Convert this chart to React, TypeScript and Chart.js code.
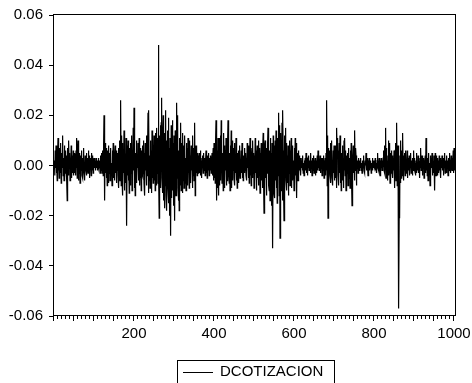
import React, { useEffect, useRef } from "react";
import Chart from "chart.js/auto";

const seriesName = "DCOTIZACION";
const xTickValues = [200, 400, 600, 800, 1000];
const yTickValues = [-0.06, -0.04, -0.02, 0, 0.02, 0.04, 0.06];

const obs0001to0100 = [
  .002,-.004,.006,-.001,.008,-.003,.001,-.006,.004,.011,
  -.002,.003,-.005,.007,0,-.003,.009,-.007,.002,.005,
  -.001,.012,-.004,.003,-.006,.008,.001,-.003,.006,-.002,
  .004,-.005,-.014,.007,.002,-.004,.010,-.001,.005,-.006,
  .003,-.002,.008,-.005,.001,.004,-.003,.006,-.004,.002,
  -.003,.005,.002,-.004,.006,-.001,.011,-.005,.003,.010,
  -.006,.002,-.003,.005,-.007,.004,.001,-.002,.006,-.004,
  .003,-.005,.002,.007,-.003,.001,-.006,.004,0,-.002,
  .005,-.004,.003,.001,-.003,.006,-.002,.004,-.005,.002,
  -.001,.003,-.004,.005,0,-.002,.004,-.003,.001,.003,
];
const obs0101to0200 = [
  -.001,.002,0,-.002,.003,.001,-.001,.002,-.002,.001,
  .003,-.001,0,.002,-.003,.001,.004,-.002,.005,-.003,
  .002,.006,-.004,.008,.020,-.006,-.014,.009,-.003,.007,
  -.005,.004,-.008,.006,.002,-.007,.008,-.003,.005,-.006,
  .003,.007,-.004,.001,-.008,.006,-.002,.009,-.005,.003,
  -.006,.004,.008,-.003,.002,-.007,.006,-.002,.005,-.004,
  .007,-.009,.003,.010,-.006,.004,.026,-.008,.012,-.005,
  .009,-.012,.006,-.003,.014,-.010,.005,.002,-.007,.011,
  -.009,-.024,.008,-.004,.010,-.006,.003,-.011,.007,.001,
  -.008,.009,-.003,.012,-.010,.006,-.005,.015,-.002,.023,
];
const obs0201to0300 = [
  -.009,.008,-.012,.005,-.003,.010,-.007,.004,-.001,.009,
  -.006,.003,.011,-.008,.002,-.005,.007,-.010,.006,-.003,
  .008,-.004,.001,.010,-.007,.005,-.012,.009,-.002,.006,
  -.008,.012,-.004,.007,.021,-.011,.022,-.006,.004,-.009,
  .010,-.003,.006,-.011,.014,-.005,.008,-.007,.003,.012,
  -.006,.009,-.010,.013,.004,-.008,.015,-.003,.011,-.007,
  .048,-.004,-.021,.012,.006,.016,-.009,.017,.027,-.005,
  -.011,.008,.020,-.014,.005,-.017,.013,-.008,.022,-.012,
  .010,-.018,.006,.014,-.009,.019,-.015,.007,-.020,.011,
  -.006,-.028,.016,-.013,.004,.018,-.010,.009,-.016,.012,
];
const obs0301to0400 = [
  -.007,-.022,.014,.008,-.012,.010,.025,-.005,.020,-.009,
  -.014,.006,-.018,.011,.007,-.008,.017,-.010,.004,.009,
  -.011,.013,-.006,.008,-.009,.005,.012,-.007,.003,-.010,
  .009,-.004,.007,-.008,.011,-.003,.006,-.009,.010,-.005,
  .004,-.007,.008,-.002,.005,-.009,.012,-.004,.007,-.006,
  .003,.017,-.012,-.005,.008,-.003,.006,-.004,.005,-.003,
  .004,-.002,.005,-.003,.001,.006,-.004,.002,-.005,.003,
  -.001,.004,-.003,.005,-.002,0,.003,-.004,.002,.006,
  -.003,.001,-.005,.004,.002,-.002,.005,-.004,.001,.003,
  -.002,.004,-.003,0,.005,-.004,.002,.007,-.006,.009,
];
const obs0401to0500 = [
  -.005,.008,-.007,.010,.018,-.004,-.014,.006,-.009,.011,
  .007,-.012,.011,-.008,.004,.012,-.006,.018,.009,-.007,
  -.007,.005,-.010,.013,-.004,.008,-.009,.006,-.002,.011,
  -.008,.004,-.006,.009,.018,.012,-.003,-.007,.005,-.010,
  .008,-.004,.014,-.009,.003,-.006,.010,-.002,.007,-.005,
  .009,-.008,.004,-.003,.011,-.006,.007,-.009,.005,-.002,
  .006,-.007,.003,.008,-.005,.002,-.004,.006,-.003,.009,
  -.005,.002,-.006,.004,.001,-.003,.007,-.002,.005,-.004,
  .003,-.006,.009,-.001,.004,-.005,.008,-.007,.002,.011,
  -.004,.006,-.008,.003,.007,-.005,.010,-.003,.005,-.009,
];
const obs0501to0600 = [
  .004,-.007,.011,-.003,.006,-.010,.002,.008,-.005,.003,
  -.008,.010,-.004,.007,-.011,.005,-.002,.009,-.006,.004,
  -.009,.006,.013,-.007,-.019,-.004,.008,.010,-.005,.003,
  -.012,.007,-.003,.009,.015,.004,-.008,-.010,.006,-.014,
  .011,-.007,.005,-.016,.009,-.004,-.033,.012,.006,-.011,
  .008,-.013,.010,-.006,.014,-.009,.005,-.015,.011,-.004,
  .009,.021,-.012,.016,-.029,-.007,.013,-.010,-.008,.017,
  -.014,.022,.006,-.011,-.022,.012,-.009,.007,.015,-.006,
  .009,-.010,.004,-.007,.008,-.012,.005,-.003,.010,-.008,
  .006,-.004,.011,-.009,.003,-.006,.008,-.005,.002,-.010,
];
const obs0601to0700 = [
  .007,-.008,.011,-.004,.009,-.006,-.013,.005,.003,-.006,
  .006,-.003,.004,-.002,.001,.003,-.004,.002,-.001,.003,
  -.002,.004,-.003,.001,-.004,.002,0,.003,-.002,.005,
  -.003,.001,.002,-.004,.003,-.001,.004,-.002,0,.002,
  -.003,.005,-.001,.002,-.004,.003,.001,-.002,.004,-.003,
  .002,-.001,.003,-.004,.001,.002,-.003,.004,-.002,.006,
  -.001,.003,-.002,0,.004,-.003,.002,-.001,.003,-.004,
  .001,.003,-.002,.004,-.005,.002,0,.003,-.004,.005,
  -.002,.026,-.008,.012,-.021,.007,-.006,.003,.006,-.004,
  .009,-.007,.003,.010,-.005,.002,-.008,.006,-.003,.008,
];
const obs0701to0800 = [
  -.006,.004,.008,-.005,.007,-.009,.015,.003,.011,-.004,
  .006,-.008,.009,-.003,.012,-.007,.002,-.010,.005,-.004,
  .008,-.006,.003,-.009,.010,-.002,.011,-.004,.006,-.010,
  -.007,.004,-.003,.005,-.008,.002,.007,-.005,.003,-.009,
  .006,-.004,.009,-.007,-.016,-.011,.002,.008,-.003,.005,
  -.006,.014,-.002,.007,.004,-.008,.003,-.001,.002,-.003,
  .001,.003,-.002,0,.002,-.001,.003,-.002,.001,-.003,
  .002,0,-.001,.004,-.002,.001,-.003,.002,0,.005,
  -.002,.001,.003,-.001,-.004,.002,0,.003,-.002,.001,
  -.001,.002,-.003,.001,0,.003,-.002,.002,-.001,0,
];
const obs0801to0900 = [
  .002,-.001,.003,-.002,.001,0,-.003,.002,.005,-.001,
  .001,-.002,.003,0,-.004,.002,-.001,.003,.001,-.002,
  .002,-.001,.003,.006,-.002,.008,-.003,.004,.015,-.005,
  .007,-.003,.002,-.006,.004,.010,-.004,.003,.009,-.007,
  .005,.001,-.003,.006,-.002,.004,-.005,.003,-.002,.006,
  -.004,-.009,.006,.009,-.006,.003,.017,-.008,.005,.008,
  -.003,-.057,-.020,-.021,.004,-.007,.010,-.005,.006,-.004,
  .008,.013,-.003,-.006,.004,-.002,.005,-.004,.006,-.003,
  .002,-.003,.006,-.005,.001,.003,-.002,.004,-.004,.002,
  -.001,.005,-.003,.002,0,-.004,.003,-.002,.006,-.001,
];
const obs0901to1005 = [
  .003,-.002,.001,-.004,.002,.005,-.003,.001,-.002,.004,
  -.003,.002,0,-.005,.003,-.001,.007,-.002,.001,.004,
  -.004,.002,-.001,.003,-.005,.002,0,.004,-.003,.011,
  -.002,.006,-.004,.003,-.006,.002,.005,-.003,.001,-.008,
  .004,-.002,.003,-.001,.005,-.004,.002,0,-.003,.004,
  -.002,-.010,.005,.002,-.004,.004,-.001,.003,-.004,.002,
  .001,-.003,.004,-.002,0,.003,-.005,.002,-.001,.004,
  -.002,.001,.003,-.004,.002,-.001,.005,-.003,0,.002,
  -.003,.004,-.001,.002,-.004,.001,.003,-.002,.005,-.001,
  .002,-.003,.004,0,-.002,.003,-.001,.006,-.003,.007,
  -.002,.004,-.001,.003,-.003,
];

const dcotizacion = [
  ...obs0001to0100, ...obs0101to0200, ...obs0201to0300, ...obs0301to0400,
  ...obs0401to0500, ...obs0501to0600, ...obs0601to0700, ...obs0701to0800,
  ...obs0801to0900, ...obs0901to1005,
];

const FONT = '"Liberation Sans", Arial, Helvetica, sans-serif';

export default function App() {
  const ref = useRef<HTMLCanvasElement>(null);

  useEffect(() => {
    if (!ref.current) return;
    const points = dcotizacion.map((v, i) => ({ x: i + 1, y: v }));

    const framePlugin = {
      id: "eviewsFrame",
      afterDraw(chart: any) {
        const ctx = chart.ctx;
        const a = chart.chartArea;
        ctx.save();
        ctx.strokeStyle = "#000";
        ctx.lineWidth = 1;
        ctx.strokeRect(a.left - 0.5, a.top - 0.5, a.right - a.left, a.bottom - a.top);
        // x-axis minor/major ticks
        const xs = chart.scales.x;
        ctx.beginPath();
        for (let v = 0; v <= 1000; v += 10) {
          const px = Math.round(xs.getPixelForValue(v)) - 0.5;
          if (px < a.left - 1 || px > a.right) continue;
          const len = v % 50 === 0 ? 5 : 3;
          ctx.moveTo(px, a.bottom);
          ctx.lineTo(px, a.bottom + len);
        }
        ctx.stroke();
        // legend
        ctx.strokeRect(177.5, 360.5, 157, 40);
        ctx.beginPath();
        ctx.moveTo(183, 372.5);
        ctx.lineTo(213, 372.5);
        ctx.stroke();
        ctx.fillStyle = "#000";
        ctx.font = `15px ${FONT}`;
        ctx.textBaseline = "middle";
        ctx.textAlign = "left";
        ctx.fillText(seriesName, 220, 372);
        ctx.restore();
      },
    };

    const chart = new Chart(ref.current, {
      type: "line",
      data: {
        datasets: [
          {
            label: seriesName,
            data: points,
            borderColor: "#000",
            borderWidth: 1.2,
            pointRadius: 0,
            tension: 0,
            fill: false,
          },
        ],
      },
      options: {
        animation: false,
        responsive: false,
        devicePixelRatio: 1,
        parsing: false,
        normalized: true,
        layout: { padding: { top: 15, right: 16, left: 0, bottom: 0 } },
        plugins: {
          legend: { display: false },
          tooltip: { enabled: false },
        },
        scales: {
          x: {
            type: "linear",
            min: 0,
            max: 1005,
            afterBuildTicks: (s: any) => {
              s.ticks = xTickValues.map((v) => ({ value: v }));
            },
            afterFit: (s: any) => {
              s.height = 67;
              s.paddingLeft = 0;
              s.paddingRight = 0;
            },
            grid: { display: true, drawOnChartArea: false, drawTicks: false, lineWidth: 0 },
            border: { display: false },
            ticks: {
              color: "#000",
              font: { family: FONT, size: 15 },
              padding: 9,
              maxRotation: 0,
              autoSkip: false,
              callback: (v: any) => String(v),
            },
          },
          y: {
            min: -0.06,
            max: 0.06,
            afterBuildTicks: (s: any) => {
              s.ticks = yTickValues.map((v) => ({ value: v }));
            },
            afterFit: (s: any) => {
              s.width = 54;
              s.paddingTop = 0;
              s.paddingBottom = 0;
            },
            grid: {
              drawOnChartArea: false,
              drawTicks: true,
              tickLength: 5,
              color: "#000",
              tickColor: "#000",
            },
            border: { display: false },
            ticks: {
              color: "#000",
              font: { family: FONT, size: 15 },
              padding: 6,
              callback: (v: any) => Number(v).toFixed(2),
            },
          },
        },
      },
      plugins: [framePlugin],
    });
    return () => chart.destroy();
  }, []);

  return (
    <div style={{ position: "fixed", left: 0, top: 0, width: 472, height: 383, background: "#fff" }}>
      <canvas ref={ref} width={472} height={383} style={{ display: "block" }} />
    </div>
  );
}
